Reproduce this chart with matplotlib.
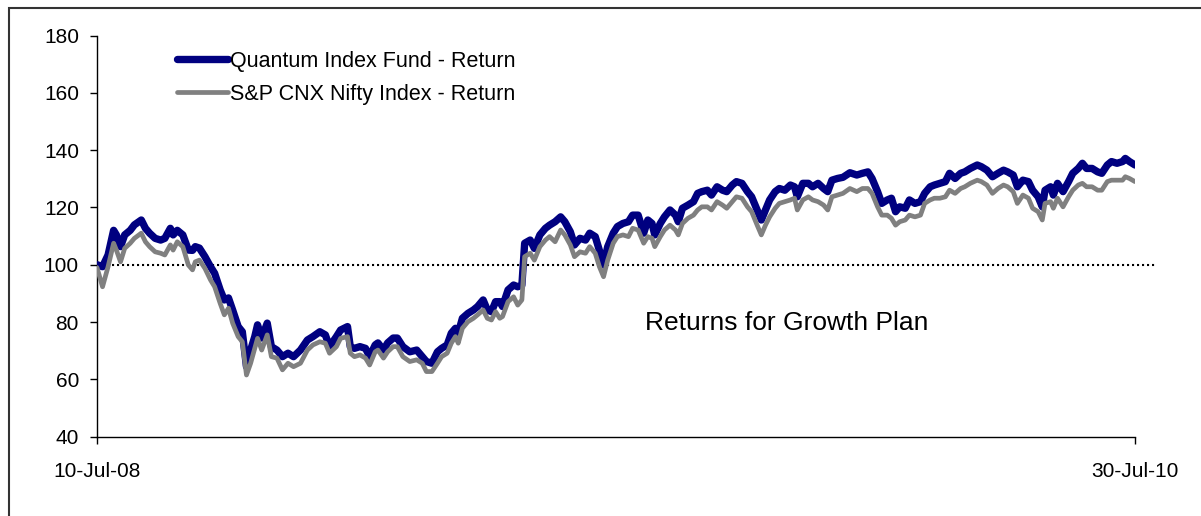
import matplotlib
matplotlib.use("Agg")
import matplotlib.pyplot as plt
from matplotlib.patches import Rectangle

plt.rcParams['font.family'] = ['Liberation Sans', 'DejaVu Sans']

# days since 10-Jul-08
days = [0, 4, 8, 12, 14, 17, 20, 24, 27, 32, 35, 38, 42, 46, 49, 53, 55, 58, 62, 66,
        69, 71, 74, 78, 82, 85, 89, 92, 95, 98, 102, 105, 108, 111, 114, 116, 119, 123, 126, 130,
        134, 138, 142, 147, 152, 156, 161, 165, 168, 173,
        176, 181, 183, 186, 190, 194, 197, 201, 203, 207, 210, 214, 217, 221, 226, 231, 235, 238, 242, 246,
        249, 253, 256, 259, 261, 264, 268, 272, 275, 279, 282, 285, 288, 291, 293, 297, 301, 304, 307, 309,
        313, 316, 320, 324, 327, 331, 335, 338, 342, 345, 349, 353,
        356, 360, 363, 366, 369, 373, 376, 380, 384, 387, 391, 395, 398, 401, 403, 407, 410, 414, 418, 420,
        423, 427, 431, 434, 437, 441, 444, 448, 452, 455, 459, 462, 466, 470, 473, 477, 480, 483, 486, 490,
        493, 497, 501, 504, 506, 510, 514, 517, 521, 525, 528, 531, 535, 539, 544, 549, 553, 557,
        560, 564, 567, 571, 574, 577, 580, 584, 587, 591, 595, 598, 602, 605, 609, 613, 616, 620, 624, 627,
        631, 636, 639, 643, 647, 651, 655, 658, 662, 665, 669, 673, 676, 680, 683, 685, 689, 691, 694, 698,
        702, 705, 709, 712, 715, 719, 723, 726, 730, 733, 737, 741, 743, 746, 750]

quantum = [100.0, 99.3, 103.4, 112, 110.4, 106.3, 110.4, 112, 113.9, 115.6,
           112.7, 111, 109.2, 108.6, 109.2, 112.7, 110.4, 112, 110.4, 105.1,
           105, 106.3, 105.8, 102.8, 99.3, 97, 91.2, 87.7, 88.4, 84.2,
           78.4, 76.6, 64.4, 70.2, 74.9, 79, 74.4, 79.6, 71.4, 70.2,
           67.9, 69.1, 67.9, 70.2, 73.7, 74.9, 76.6, 75.5, 71.4, 74.9,
           77.2, 78.4, 71.4, 70.8, 71.4, 70.8, 67.9, 72, 72.7, 70.2,
           72.7, 74.4, 74.4, 71.4, 69.6, 70.2, 67.9, 66.2, 65.6, 69.6,
           70.8, 72, 76.1, 77.8, 76.1, 81.3, 83, 84.2, 85.4, 87.7,
           84.2, 83.6, 87.1, 87.1, 85.4, 91.2, 92.9, 92.3, 92.9, 107.5,
           108.6, 105.7, 110.4, 112.7, 113.8, 115, 116.7, 115, 111.5, 106.9,
           109.2, 108.6,
           111, 109.8, 105, 99.9, 106.3, 111, 113.3, 114.4, 115, 117.3,
           117.3, 111, 115.6, 114.4, 110.4, 114.4, 116.7, 119.1, 117.3, 115,
           119.7, 120.8, 122, 124.9, 125.5, 126, 124.3, 127.2, 126, 125.5,
           127.8, 129, 128.4, 125.5, 123.7, 119.1, 115.6, 119.1, 122.6, 125.5,
           126.6, 126, 127.8, 127.2, 123.7, 128.4, 128.4, 127.2, 128.4, 126.6,
           125.5, 129.5, 130.1, 130.5, 132.1, 131.3, 131.9, 132.4,
           130.1, 125.5, 121.4, 122.6, 123.2, 118.5, 120.2, 119.7, 122.6, 121.4,
           122, 124.9, 127.2, 127.8, 128.4, 129, 131.9, 130.1, 131.9, 132.4,
           133.6, 134.8, 134.2, 133, 130.7, 131.9, 133, 132.4, 131.3, 127.2,
           129.5, 129, 126, 123.7, 120.2, 126, 127.2, 124.3, 128.4, 125.5,
           129, 131.9, 133.6, 135.4, 133.6, 133.6, 132.4, 131.9, 134.8, 136,
           135.4, 136, 137.1, 136, 134.8]

nifty = [99.0, 92.3, 99.3, 107.5, 105.1, 101, 105.7, 107.5, 109.2, 111,
         108, 106.3, 104.5, 104, 103.4, 106.9, 105.1, 108, 106.3, 99.9,
         98.2, 101, 101.6, 98.7, 94.7, 92.3, 86.5, 82.5, 84.8, 79.6,
         74.9, 73.1, 61.5, 65.6, 70.8, 74.3, 70.2, 75.5, 67.9, 67.4,
         63.3, 65.6, 64.4, 65.6, 70.2, 72, 73.1, 72.6, 69.1, 71.4,
         74.3, 74.9, 69.1, 67.9, 68.5, 67.4, 65, 69.6, 70.2, 67.4,
         69.6, 71.4, 71.4, 67.9, 66.2, 66.8, 65.6, 62.7, 62.7, 65.6,
         67.9, 69.1, 72.6, 74.9, 72.6, 77.8, 80.1, 81.3, 82.5, 84.2,
         81.3, 80.7, 83.6, 81.3, 81.9, 87.1, 88.8, 85.9, 87.7, 102.8,
         104, 101.6, 106.3, 108.6, 109.8, 108, 112.1, 110.4, 106.9, 102.8,
         104.5, 104,
         106.3, 104, 99.3, 95.8, 101.6, 107.5, 109.8, 110.4, 109.8, 112.7,
         112.1, 107.5, 109.8, 109.2, 106.3, 109.8, 112.1, 113.8, 112.1, 110.4,
         114.4, 116.2, 117.3, 119.1, 120.2, 120.2, 119.1, 122, 120.8, 119.7,
         122, 123.7, 123.2, 120.2, 118.5, 113.8, 110.4, 113.8, 116.7, 119.7,
         121.4, 122, 122.6, 123.2, 119.1, 122.6, 123.7, 122.6, 122, 120.8,
         119.1, 123.7, 124.3, 124.9, 126.6, 125.5, 126.6, 126.6,
         124.9, 120.2, 117.3, 117.3, 116.2, 113.8, 115, 115.6, 117.3, 116.7,
         117.3, 121.4, 122.6, 123.2, 123.2, 123.7, 126, 124.9, 126.6, 127.2,
         128.4, 129.5, 129, 127.8, 124.9, 126.6, 127.8, 127.2, 125.5, 121.4,
         124.3, 123.2, 119.7, 118.5, 115.6, 121.4, 122, 119.7, 123.2, 120.2,
         123.7, 126, 127.8, 128.4, 127.2, 127.2, 126, 126, 129, 129.5,
         129.5, 129.5, 130.7, 130.1, 129]

series_names = ["Quantum Index Fund - Return", "S&P CNX Nifty Index - Return"]
x_tick_labels = ["10-Jul-08", "30-Jul-10"]
y_ticks = [40, 60, 80, 100, 120, 140, 160, 180]
baseline = 100
annotation = "Returns for Growth Plan"

W, H = 1201, 516
fig = plt.figure(figsize=(W / 100, H / 100), dpi=100)
ax = fig.add_axes([97 / W, (H - 436.6) / H, 1038 / W, 401.1 / H])

ax.plot(days, quantum, color="#000080", lw=5.3, solid_capstyle="round",
        solid_joinstyle="round", label=series_names[0], zorder=3)
ax.plot(days, nifty, color="#808080", lw=3.4, solid_capstyle="round",
        solid_joinstyle="round", label=series_names[1], zorder=4)

ax.axhline(baseline, xmin=0, xmax=1.019, color="black", lw=1.5,
           linestyle=(0, (1, 1.4)), dash_capstyle="butt", clip_on=False, zorder=2)

ax.set_xlim(days[0], days[-1])
ax.set_ylim(y_ticks[0], y_ticks[-1])
ax.set_yticks(y_ticks)
ax.set_xticks([days[0], days[-1]])
ax.set_xticklabels(x_tick_labels)

for s in ["top", "right"]:
    ax.spines[s].set_visible(False)
for s in ["left", "bottom"]:
    ax.spines[s].set_color("black")
    ax.spines[s].set_linewidth(1.0)

ax.tick_params(axis="y", direction="out", length=5, width=1, pad=8,
               labelsize=15, colors="black")
ax.tick_params(axis="x", direction="out", length=5, width=1, pad=13,
               labelsize=15, colors="black")

leg = ax.legend(loc="upper left", bbox_to_anchor=(177 / W, (H - 51) / H),
                bbox_transform=fig.transFigure, frameon=False, fontsize=15.5,
                handlelength=2.38, handletextpad=0.08, borderpad=0,
                borderaxespad=0, labelspacing=0.55)

ax.text((645 - 97) / 1038, (436.6 - 330) / 401.1, annotation,
        transform=ax.transAxes, fontsize=19, ha="left", va="baseline")

# outer chart border (extends past right/bottom edges)
fig.patches.append(Rectangle((9 / W, -0.1), 1.2, (H - 8) / H + 0.1,
                             transform=fig.transFigure, fill=False,
                             edgecolor="#333333", lw=1.5))

fig.savefig("out.png", dpi=100, facecolor="white")
